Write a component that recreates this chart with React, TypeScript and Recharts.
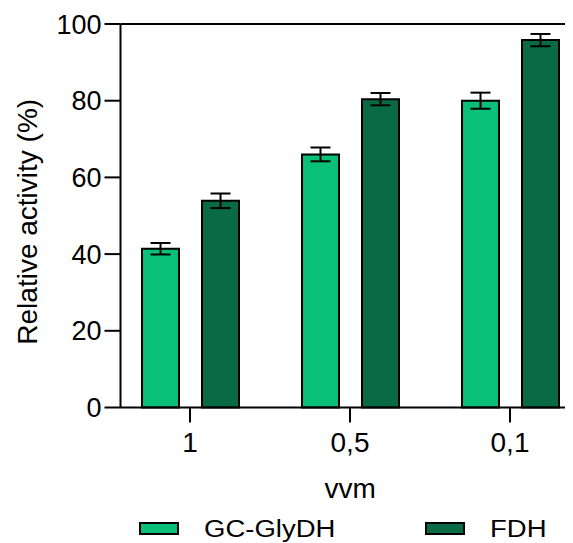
import React from 'react';
import { BarChart, Bar, XAxis, YAxis, ErrorBar, ReferenceLine, Legend, Label } from 'recharts';

const categories = ['1', '0,5', '0,1'];
const gcValues = [41.4, 66.0, 80.0];
const gcErrors = [1.5, 1.8, 2.1];
const fdhValues = [53.9, 80.4, 95.8];
const fdhErrors = [1.9, 1.6, 1.6];
const yTicks = [0, 20, 40, 60, 80, 100];

const seriesNames = ['GC-GlyDH', 'FDH'];
const colors = ['#0ABF77', '#086B45'];

const data = categories.map((c, i) => ({
  cat: c,
  gc: gcValues[i],
  gcErr: gcErrors[i],
  fdh: fdhValues[i],
  fdhErr: fdhErrors[i],
}));

const FONT = '"Liberation Sans", Arial, Helvetica, sans-serif';

const LegendContent = () => (
  <div style={{ position: 'relative', height: 36, width: 565, fontFamily: FONT }}>
    {seriesNames.map((n, i) => (
      <React.Fragment key={n}>
        <div
          style={{
            position: 'absolute',
            left: i === 0 ? 131 : 417,
            top: 14.5,
            width: 40,
            height: 13.5,
            boxSizing: 'border-box',
            border: '2px solid #000',
            background: colors[i],
          }}
        />
        <div
          style={{
            position: 'absolute',
            left: i === 0 ? 196 : 482,
            top: 10.6,
            fontSize: 23.5,
            lineHeight: '23.5px',
            color: '#000',
            whiteSpace: 'nowrap',
            transform: 'scaleX(1.17)',
            transformOrigin: 'left center',
          }}
        >
          {n}
        </div>
      </React.Fragment>
    ))}
  </div>
);

export default function App() {
  return (
    <div style={{ fontFamily: FONT }}>
      <BarChart
        width={565}
        height={535}
        data={data}
        margin={{ top: 16, right: 0, left: 0, bottom: 0 }}
        barSize={37}
        barGap={23}
      >
        <XAxis
          dataKey="cat"
          height={99.5}
          stroke="#000"
          strokeWidth={2}
          tickSize={15}
          tickMargin={10}
          padding={{ left: -10.5, right: -17 }}
          tick={{ fill: '#000', fontSize: 28, fontFamily: FONT }}
        >
          <Label
            content={(props: any) => {
              const vb = props.viewBox || {};
              return (
                <text
                  x={vb.x + vb.width / 2 + 3.5}
                  y={vb.y + 90.5}
                  textAnchor="middle"
                  fontSize={28}
                  fontFamily={FONT}
                  fill="#000"
                >
                  vvm
                </text>
              );
            }}
          />
        </XAxis>
        <YAxis
          width={112.5}
          domain={[0, 100]}
          ticks={yTicks}
          stroke="#000"
          strokeWidth={2}
          tickSize={16}
          tickMargin={3}
          tick={{ fill: '#000', fontSize: 27, fontFamily: FONT }}
        >
          <Label
            content={(props: any) => {
              const vb = props.viewBox || {};
              const cx = vb.x + 19;
              const cy = vb.y + vb.height / 2 + 6;
              return (
                <text
                  x={cx}
                  y={cy}
                  transform={`rotate(-90 ${cx} ${cy})`}
                  textAnchor="middle"
                  dominantBaseline="central"
                  fontSize={28}
                  fontFamily={FONT}
                  fill="#000"
                >
                  Relative activity (%)
                </text>
              );
            }}
          />
        </YAxis>
        <ReferenceLine y={100} stroke="#000" strokeWidth={2} />
        <Legend verticalAlign="bottom" height={36} content={<LegendContent />} />
        <Bar dataKey="gc" name={seriesNames[0]} fill={colors[0]} stroke="#000" strokeWidth={2} isAnimationActive={false}>
          <ErrorBar dataKey="gcErr" width={10} stroke="#000" strokeWidth={2} />
        </Bar>
        <Bar dataKey="fdh" name={seriesNames[1]} fill={colors[1]} stroke="#000" strokeWidth={2} isAnimationActive={false}>
          <ErrorBar dataKey="fdhErr" width={10} stroke="#000" strokeWidth={2} />
        </Bar>
      </BarChart>
    </div>
  );
}
